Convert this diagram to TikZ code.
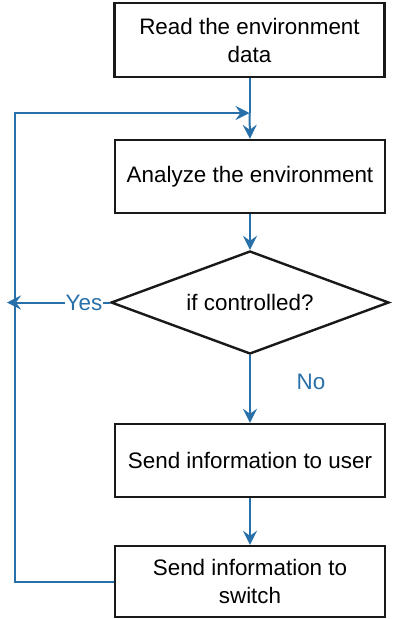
\documentclass[tikz,border=0pt]{standalone}
\usepackage{fontspec}
\setmainfont{Liberation Sans}
\usetikzlibrary{shapes.geometric,arrows.meta}
\definecolor{flowblue}{RGB}{40,112,170}
\begin{document}
\begin{tikzpicture}[x=1pt,y=1pt,
  stepbox/.style={draw=black!90, line width=2.4pt, minimum width=270pt, align=center,
    font=\fontsize{22.4}{28}\selectfont, inner sep=0pt},
  decision/.style={draw=black!90, line width=2.4pt, diamond, aspect=2.7, inner sep=0pt,
    minimum width=278pt, minimum height=103pt, font=\fontsize{22.4}{28}\selectfont},
  flow/.style={draw=flowblue, line width=2pt, -{Stealth[length=14pt,width=14pt,inset=5pt]}},
  link/.style={draw=flowblue, line width=2pt},
  lbl/.style={text=flowblue, font=\fontsize{22.4}{28}\selectfont, inner sep=1pt}
]
\useasboundingbox (0,0) rectangle (393,-619);

\node[stepbox, minimum height=74pt] (read) at (249.5,-40) {Read the environment\\data};
\node[stepbox, minimum height=73pt] (analyze) at (250,-176.5) {Analyze the environment};
\node[decision] (ctrl) at (250,-302.5) {if controlled?};
\node[stepbox, minimum height=73pt] (user) at (250,-460.5) {Send information to user};
\node[stepbox, minimum height=71pt] (switch) at (250,-581.5) {Send information to\\switch};

\coordinate (merge) at (249.5,-113);
\coordinate (loopbl) at (15,-582);
\coordinate (looptl) at (15,-113);
\coordinate (yesend) at (7,-302.5);

% main downward flow
\draw[link] (read.south) -- (merge);
\draw[flow] (merge) -- (analyze.north);
\draw[flow] (analyze.south) -- (ctrl.north);
\draw[flow] (ctrl.south) -- (user.north);
\draw[flow] (user.south) -- (switch.north);

% feedback loop back to the analysis step
\draw[flow] (switch.west |- loopbl) -- (loopbl) -- (looptl) -- (merge);

% "Yes" branch
\draw[flow] (ctrl.west) -- (yesend);
\node[lbl, fill=white] (yes) at (84,-302.5) {Yes};
\node[lbl] (no) at (311,-382) {No};
\end{tikzpicture}
\end{document}
